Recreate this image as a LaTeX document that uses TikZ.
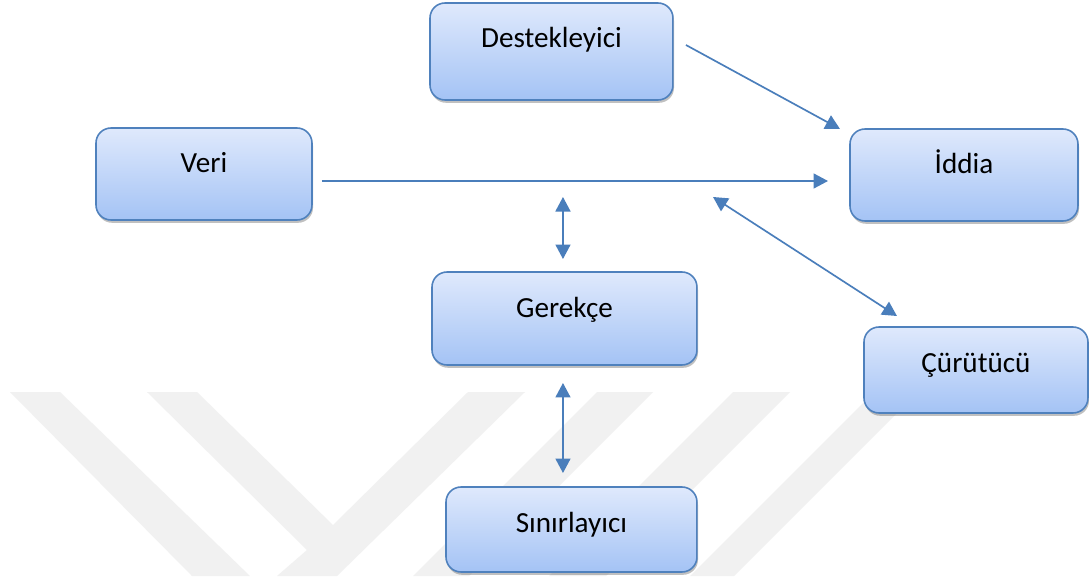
\documentclass[tikz,border=0pt]{standalone}
\usepackage{fontspec}
\setmainfont{Carlito}
\usepackage{xcolor}
\usepackage{tikz}
\usetikzlibrary{arrows.meta}
\usetikzlibrary{shadows}
\usetikzlibrary{calc}

\definecolor{kutuust}{RGB}{223,233,252}
\definecolor{kutualt}{RGB}{164,195,245}
\definecolor{kenar}{RGB}{79,129,189}
\definecolor{okrenk}{RGB}{74,126,187}
\definecolor{filigran}{RGB}{241,241,241}

\tikzset{
    kutu/.style={draw=kenar, line width=0.9pt, rounded corners=0.3cm,
        top color=kutuust, bottom color=kutualt, inner sep=0pt, outer sep=0pt,
        anchor=north west, text height=0.9cm, align=center,
        font=\fontsize{16.6}{19}\selectfont,
        drop shadow={shadow xshift=0.6pt, shadow yshift=-1.6pt, opacity=0.35, fill=black!70}},
    okuc/.style={draw=okrenk, line width=0.95pt, -{Triangle[length=0.29cm, width=0.3cm]}},
    ikiuc/.style={draw=okrenk, line width=0.95pt, {Triangle[length=0.29cm, width=0.3cm]}-{Triangle[length=0.29cm, width=0.3cm]}}
}

\begin{document}
\begin{tikzpicture}[x=0.02cm, y=-0.02cm]
        \useasboundingbox[fill=white] (0, 0) rectangle (1089, 576);

        \fill[filigran] (10, 392) -- (60, 392) -- (250, 576) -- (192, 576) -- cycle;
        \fill[filigran] (147, 392) -- (197, 392) -- (333, 525) -- (468, 392) -- (525, 392)
            -- (337, 576) -- (277, 576) -- (307, 550) -- cycle;
        \fill[filigran] (597, 392) -- (653, 392) -- (469, 576) -- (413, 576) -- cycle;
        \fill[filigran] (733, 392) -- (790, 392) -- (606, 576) -- (549, 576) -- cycle;
        \fill[filigran] (874, 392) -- (918, 392) -- (734, 576) -- (690, 576) -- cycle;

        \node[kutu, minimum width=4.86cm, text depth=1.04cm] (destek) at (430, 3) {Destekleyici};
        \node[kutu, minimum width=4.32cm, text depth=0.94cm] (veri) at (96, 128) {Veri};
        \node[kutu, minimum width=4.56cm, text depth=0.94cm] (iddia) at (850, 129) {İddia};
        \node[kutu, minimum width=5.30cm, text depth=0.96cm] (gerekce) at (432, 272) {Gerekçe};
        \node[kutu, minimum width=4.48cm, text depth=0.82cm] (curutucu) at (864, 327) {Çürütücü};
        \node[kutu, minimum width=5.02cm, text depth=0.80cm] (sinir) at (446, 487) {Sınırlayıcı};

        \draw[okuc] ($(destek.east) + (13, -6.5)$) -- ($(iddia.north west) + (-10, 0)$);
        \draw[okuc] ($(veri.east) + (10, 7)$) -- ($(iddia.west) + (-22, 6)$);
        \draw[ikiuc] ($(gerekce.north) + (-1.5, -75)$) -- ($(gerekce.north) + (-1.5, -13)$);
        \draw[ikiuc] ($(iddia.south west) + (-137, -24)$) -- ($(curutucu.north) + (-79, -11)$);
        \draw[ikiuc] ($(gerekce.south) + (-1.5, 18)$) -- ($(sinir.north) + (-8.5, -14)$);
    \end{tikzpicture}
\end{document}
